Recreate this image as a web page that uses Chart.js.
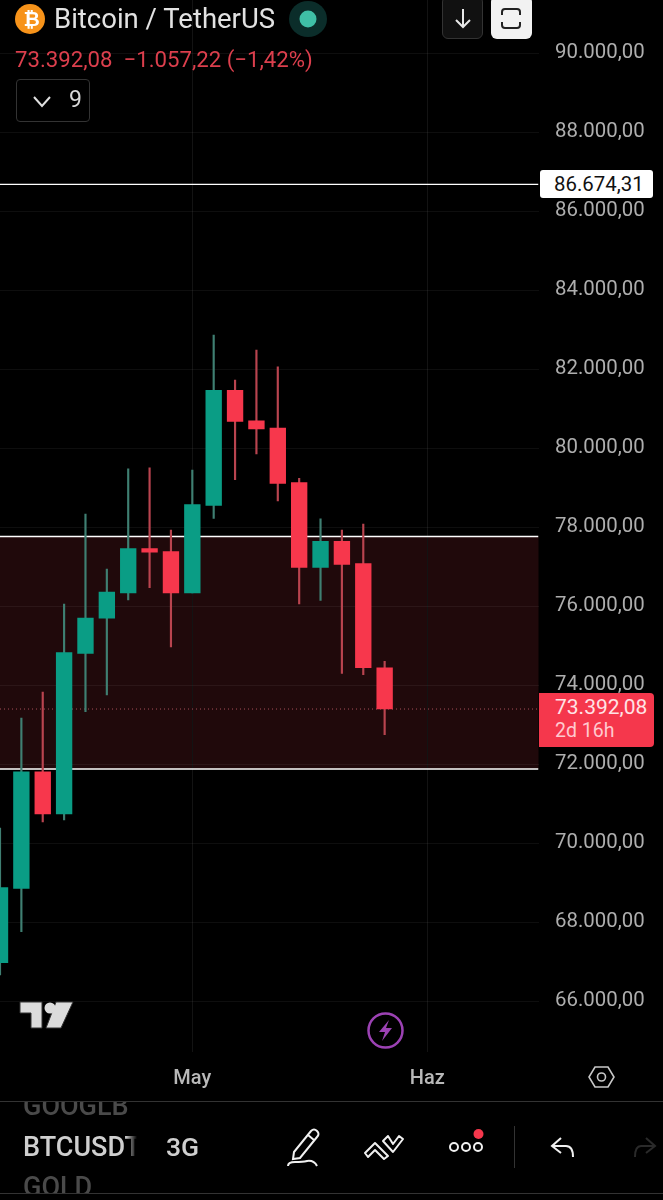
<!DOCTYPE html>
<html>
<head>
<meta charset="utf-8">
<title>Bitcoin / TetherUS</title>
<script src="https://cdn.jsdelivr.net/npm/chart.js@4"></script>
<style>
  html, body { margin: 0; padding: 0; background: #000; overflow: hidden; }
  #wrap { position: relative; width: 663px; height: 1200px; font-family: Roboto, sans-serif; overflow: hidden; }
  #results-chart { position: absolute; left: 0; top: 0; }
  .t { position: absolute; white-space: nowrap; line-height: 1; }
  .box { position: absolute; box-sizing: border-box; }
  svg { position: absolute; overflow: visible; }
</style>
</head>
<body>
<div id="wrap">
  <canvas id="results-chart" width="663" height="1200"></canvas>

  <!-- header -->
  <svg style="left:0;top:0" width="340" height="40">
    <circle cx="30" cy="19" r="15" fill="#f7931a"/>
    <ellipse cx="308" cy="19" rx="19" ry="18" fill="#0b2d2a"/>
    <circle cx="308" cy="19" r="8.5" fill="#3fbfa6"/>
  </svg>
  <div class="t" style="top:9px;width:13px;text-align:center;font-size:20px;font-weight:700;color:#fff;left:23.5px">₿</div>
  <div class="t" style="left:54px;top:5px;font-size:27.5px;color:#e2e2e2">Bitcoin / TetherUS</div>
  <div class="t" style="left:15px;top:48px;font-size:22.2px;color:#dc3f4d">73.392,08&nbsp; −1.057,22 (−1,42%)</div>
  <div class="box" style="left:16px;top:79px;width:74px;height:43px;border:1px solid #333;border-radius:4px"></div>
  <svg style="left:33px;top:96px" width="18" height="12"><path d="M1 1 L9 10 L17 1" fill="none" stroke="#e0e0e0" stroke-width="2"/></svg>
  <div class="t" style="left:69px;top:88px;font-size:23px;color:#d8d8d8">9</div>

  <div class="box" style="left:442px;top:-4px;width:41px;height:42.5px;background:#111;border:1px solid #333;border-radius:6px"></div>
  <svg style="left:453px;top:8px" width="20" height="20"><path d="M10 1 V19 M3 12 L10 19 L17 12" fill="none" stroke="#e8e8e8" stroke-width="2"/></svg>
  <div class="box" style="left:491px;top:-4px;width:41px;height:42.5px;background:#f2f2f2;border-radius:6px"></div>
  <svg style="left:501px;top:8px" width="20" height="20"><path d="M1 7 V4 Q1 1 4 1 H16 Q19 1 19 4 V7 M1 14 V17 Q1 20 4 20 H16 Q19 20 19 17 V14" fill="none" stroke="#222" stroke-width="2"/></svg>

  <!-- price tags -->
  <div class="box" style="left:540px;top:170px;width:113px;height:28px;background:#fff;border-radius:3px"></div>
  <div class="t" style="left:554px;top:174px;font-size:20.4px;color:#111">86.674,31</div>
  <div class="box" style="left:539px;top:693px;width:115px;height:54px;background:#f5374c;border-radius:0 4px 4px 0"></div>
  <div class="t" style="left:555px;top:697px;font-size:21px;color:#ffe3e6">73.392,08</div>
  <div class="t" style="left:555px;top:721px;font-size:19.5px;color:#ffc9cf">2d 16h</div>

  <!-- logo, bolt, settings -->
  <svg style="left:20px;top:1002px" width="54" height="27">
    <path d="M0 0 H22 V26 H11 V11 H0 Z M36 0 H53 L41 26 H26 Z" fill="#dcdcdc" stroke="#333" stroke-width="1"/>
    <circle cx="30" cy="6" r="5.5" fill="#dcdcdc"/>
  </svg>
  <svg style="left:367px;top:1012px" width="37" height="37">
    <circle cx="18.5" cy="18.5" r="17" fill="none" stroke="#9c42b4" stroke-width="2.5"/>
    <path d="M22 8 L12 20 H18 L15 29 L25 16 H19 Z" fill="#9c42b4"/>
  </svg>
  <svg style="left:589px;top:1066px" width="25" height="22">
    <path d="M6 1 H19 L25 11 L19 21 H6 L0 11 Z" fill="none" stroke="#c8c8c8" stroke-width="1.6"/>
    <circle cx="12.5" cy="11" r="4" fill="none" stroke="#c8c8c8" stroke-width="1.6"/>
  </svg>

  <!-- bottom toolbar -->
  <div class="box" style="left:0;top:1101px;width:663px;height:1px;background:#333"></div>
  <div class="box" style="left:0;top:1193px;width:663px;height:1px;background:#333"></div>
  <div class="box" style="left:0;top:1102px;width:140px;height:91px;overflow:hidden">
    <div class="t" style="left:23px;top:-9px;font-size:27px;font-weight:500;color:#4a4a4a">GOOGLB</div>
    <div class="t" style="left:23px;top:32px;font-size:27px;font-weight:500;color:#cfcfcf;width:114px;overflow:hidden;-webkit-mask-image:linear-gradient(to right,#000 90%,transparent)">BTCUSDT</div>
    <div class="t" style="left:23px;top:72px;font-size:27px;font-weight:500;color:#4a4a4a">GOLD</div>
  </div>
  <div class="t" style="left:166px;top:1134px;font-size:26.5px;font-weight:500;color:#cfcfcf">3G</div>
  <svg style="left:287px;top:1128px" width="34" height="40">
    <path d="M7 24 L24 3 Q27 0 30 3 Q33 6 30 9 L13 30 L6 31 Z M21 7 L27 12" fill="none" stroke="#f0f0f0" stroke-width="2"/>
    <path d="M1 38 Q1 34 8 34 Q16 34 20 33 Q27 32 30 38" fill="none" stroke="#f0f0f0" stroke-width="2"/>
  </svg>
  <svg style="left:364px;top:1135px" width="40" height="25">
    <path d="M1 18 L11 8 L24 21 L20 24 L11 15 L4 22 Z M19 6 L24 1 L29 9 L35 1 L39 4 L29 17 Z" fill="none" stroke="#f0f0f0" stroke-width="2" stroke-linejoin="round"/>
  </svg>
  <svg style="left:449px;top:1128px" width="36" height="30">
    <circle cx="5" cy="19" r="4" fill="none" stroke="#f0f0f0" stroke-width="2"/>
    <circle cx="17" cy="19" r="4" fill="none" stroke="#f0f0f0" stroke-width="2"/>
    <circle cx="29" cy="19" r="4" fill="none" stroke="#f0f0f0" stroke-width="2"/>
    <circle cx="29.5" cy="6" r="5" fill="#f5374c"/>
  </svg>
  <div class="box" style="left:514px;top:1126px;width:1px;height:42px;background:#333"></div>
  <svg style="left:551px;top:1137px" width="24" height="21"><path d="M10 1 L1 9 L10 16 M1 9 H15 Q22 9 22 20" fill="none" stroke="#f0f0f0" stroke-width="2"/></svg>
  <svg style="left:634px;top:1137px" width="22" height="21"><path d="M12 1 L21 9 L12 16 M21 9 H7 Q1 9 1 20" fill="none" stroke="#2a2a2a" stroke-width="2"/></svg>
</div>

<script>
const candleOpen  = [66970, 68853, 71805, 70734, 74800, 75690, 76329, 77451, 77375, 76329, 78549, 81461, 80691, 80506, 79122, 76980, 77638, 77071, 74438];
const candleHigh  = [70380, 73165, 73823, 76051, 78329, 76937, 79476, 79501, 77924, 79443, 82861, 81722, 82481, 82058, 79233, 78210, 77924, 78076, 74600];
const candleLow   = [66659, 67755, 70532, 70582, 73324, 73747, 76152, 76463, 74962, 76329, 78220, 79198, 79848, 78658, 76051, 76144, 74296, 74261, 72742];
const candleClose = [68869, 71805, 70734, 74818, 75696, 76355, 77451, 77360, 76329, 78565, 81461, 80676, 80481, 79106, 76980, 77638, 77056, 74438, 73392.08];

const priceTicks = [66000, 68000, 70000, 72000, 74000, 76000, 78000, 80000, 82000, 84000, 86000, 88000, 90000];
const monthTicks = [9, 20];
const monthNames = ['May', 'Haz'];

const alertLevel = 86674.31;
const lastPrice = 73392.08;
const zoneTop = 77760;
const zoneBottom = 71874;

const barsVisible = 25.2;
const GREEN = '#0a9d85';
const RED = '#f7374c';

const isUp = candleOpen.map((o, i) => candleClose[i] >= o);
const level = v => [{ x: 0, y: v }, { x: barsVisible, y: v }];

//-------------------------------------------------//

const zonePlugin = {
    id: 'zone',
    beforeDraw(chart) {
        const { ctx, chartArea, scales } = chart;
        const top = scales.y.getPixelForValue(zoneTop);
        const bottom = scales.y.getPixelForValue(zoneBottom);
        ctx.save();
        ctx.fillStyle = '#20090b';
        ctx.fillRect(chartArea.left, top, chartArea.right - chartArea.left, bottom - top);
        ctx.restore();
    }
};

const lineStyle = { type: 'line', pointRadius: 0, order: 3, borderWidth: 1.4, borderColor: '#ffffff' };

const ctx = document.getElementById('results-chart').getContext('2d');
const chart = new Chart(ctx, {
    type: 'bar',
    data: {
        datasets: [
            { ...lineStyle, label: 'Alert', data: level(alertLevel) },
            { ...lineStyle, label: 'Zone top', data: level(zoneTop) },
            { ...lineStyle, label: 'Zone bottom', data: level(zoneBottom) },
            { ...lineStyle, label: 'Last', data: level(lastPrice), borderWidth: 1, borderColor: '#a8505a', borderDash: [1, 3] },
            {
                label: 'Wick',
                order: 2,
                barThickness: 1.5,
                backgroundColor: isUp.map(u => u ? '#3f7f72' : '#b9444f'),
                data: candleHigh.map((h, i) => ({ x: i, y: [candleLow[i], h] }))
            },
            {
                label: 'Body',
                order: 1,
                barThickness: 15.7,
                backgroundColor: isUp.map(u => u ? GREEN : RED),
                data: candleOpen.map((o, i) => ({ x: i, y: [o, candleClose[i]] }))
            }
        ]
    },
    plugins: [zonePlugin],
    options: {
        responsive: false,
        animation: false,
        devicePixelRatio: 1,
        layout: { padding: 0, autoPadding: false },
        plugins: { legend: { display: false }, tooltip: { enabled: false } },
        datasets: { bar: { grouped: false } },
        scales: {
            x: {
                type: 'linear',
                offset: false,
                min: 0,
                max: barsVisible,
                afterBuildTicks: s => { s.ticks = monthTicks.map(v => ({ value: v })); },
                afterFit: s => { s.height = 148; },
                grid: { offset: false, color: '#131313', drawTicks: false },
                border: { display: false },
                ticks: {
                    autoSkip: false,
                    maxRotation: 0,
                    padding: 15,
                    color: '#b8b8b8',
                    font: { family: 'Roboto', size: 20, weight: '500' },
                    callback: v => monthNames[monthTicks.indexOf(v)]
                }
            },
            y: {
                type: 'linear',
                position: 'right',
                min: 64709,
                max: 91342,
                afterBuildTicks: s => { s.ticks = priceTicks.map(v => ({ value: v })); },
                afterFit: s => { s.width = 124.5; s.paddingTop = 0; s.paddingBottom = 0; },
                grid: { color: 'rgba(255,255,255,0.055)', drawTicks: false },
                border: { display: false },
                ticks: {
                    autoSkip: false,
                    crossAlign: 'near',
                    padding: 16.5,
                    color: '#aeaeae',
                    font: { family: 'Roboto', size: 20.4 },
                    callback: v => v.toLocaleString('tr-TR', { minimumFractionDigits: 2, maximumFractionDigits: 2 })
                }
            }
        }
    }
});
</script>
</body>
</html>
